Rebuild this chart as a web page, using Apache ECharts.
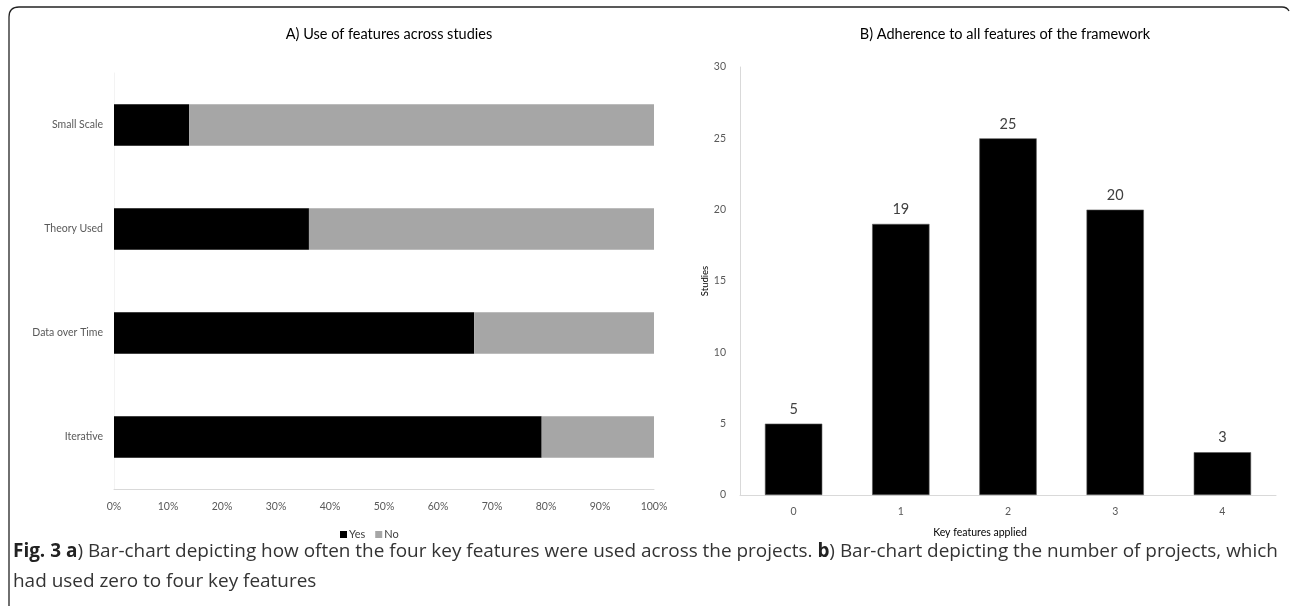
<!DOCTYPE html>
<html>
<head>
<meta charset="utf-8">
<script src="https://cdn.jsdelivr.net/npm/echarts@6/dist/echarts.min.js"></script>
<style>
html,body{margin:0;padding:0;background:#fff;}
#chart{width:1290px;height:607px;}
</style>
</head>
<body>
<div id="chart"></div>
<script>
// Panel A
var featureCategories = ['Small Scale', 'Theory Used', 'Data over Time', 'Iterative'];
var yesPercent = [13.9, 36.1, 66.7, 79.2];
var noPercent = [86.1, 63.9, 33.3, 20.8];
var percentTicks = ['0%','10%','20%','30%','40%','50%','60%','70%','80%','90%','100%'];
// Panel B
var keyFeatureCategories = ['0', '1', '2', '3', '4'];
var studyCounts = [5, 19, 25, 20, 3];

var FONT = 'Lato, "Open Sans", sans-serif';
var CAPFONT = '"Open Sans", sans-serif';
var chart = echarts.init(document.getElementById('chart'));
var frameStyle = { fill: null, stroke: '#222', lineWidth: 1.3 };
var option = {
  backgroundColor: '#ffffff',
  textStyle: { fontFamily: FONT },
  animation: false,
  title: [
    { text: 'A) Use of features across studies', left: 384, top: 22, textAlign: 'center',
      textStyle: { fontFamily: FONT, fontSize: 14.5, fontWeight: 'normal', color: '#000' } },
    { text: 'B) Adherence to all features of the framework', left: 1000, top: 22, textAlign: 'center',
      textStyle: { fontFamily: FONT, fontSize: 14.5, fontWeight: 'normal', color: '#000' } }
  ],
  legend: {
    data: ['Yes', 'No'],
    left: 335, top: 524,
    itemWidth: 7, itemHeight: 7, itemGap: 10,
    icon: 'rect',
    textStyle: { fontFamily: FONT, fontSize: 11, color: '#404040', padding: [0,0,0,-3] }
  },
  grid: [
    { left: 114, right: 636, top: 73, bottom: 118 },
    { left: 740, right: 14, top: 67, bottom: 112 }
  ],
  xAxis: [
    { type: 'value', gridIndex: 0, min: 0, max: 100, interval: 10,
      axisLine: { show: true, lineStyle: { color: '#d9d9d9' } },
      axisTick: { show: false }, splitLine: { show: false },
      axisLabel: { color: '#595959', fontSize: 10.5, margin: 12,
        formatter: function (v) { return percentTicks[Math.round(v / 10)]; } } },
    { type: 'category', gridIndex: 1, data: keyFeatureCategories,
      axisLine: { show: true, lineStyle: { color: '#d9d9d9' } },
      axisTick: { show: false },
      axisLabel: { color: '#595959', fontSize: 10.5, margin: 11 },
      name: 'Key features applied', nameLocation: 'middle', nameGap: 32,
      nameTextStyle: { color: '#000', fontSize: 10.5, padding: [0, 56, 0, 0] } }
  ],
  yAxis: [
    { type: 'category', gridIndex: 0, data: featureCategories, inverse: true,
      axisLine: { show: true, lineStyle: { color: '#f3f3f3' } },
      axisTick: { show: false },
      axisLabel: { color: '#595959', fontSize: 10.5, margin: 11 } },
    { type: 'value', gridIndex: 1, min: 0, max: 30, interval: 5,
      axisLine: { show: true, lineStyle: { color: '#d9d9d9' } },
      axisTick: { show: false }, splitLine: { show: false },
      axisLabel: { color: '#595959', fontSize: 10.5, margin: 14 },
      name: 'Studies', nameLocation: 'middle', nameGap: 29, nameRotate: 90,
      nameTextStyle: { color: '#000', fontSize: 9.5 } }
  ],
  series: [
    { name: 'Yes', type: 'bar', stack: 'a', xAxisIndex: 0, yAxisIndex: 0,
      data: yesPercent, barWidth: '40%', itemStyle: { color: '#000000' } },
    { name: 'No', type: 'bar', stack: 'a', xAxisIndex: 0, yAxisIndex: 0,
      data: noPercent, barWidth: '40%', itemStyle: { color: '#a6a6a6' } },
    { name: 'Studies', type: 'bar', xAxisIndex: 1, yAxisIndex: 1,
      data: studyCounts, barWidth: '53.5%',
      itemStyle: { color: '#000000', borderColor: '#595959', borderWidth: 0.6 },
      label: { show: true, position: 'top', distance: 7, color: '#404040', fontSize: 14.5, fontFamily: FONT } }
  ],
  graphic: [
    { type: 'polyline', silent: true, shape: { points: [[9, 606], [9, 17]] }, style: frameStyle },
    { type: 'bezierCurve', silent: true, shape: { x1: 9, y1: 17, cpx1: 9, cpy1: 7, x2: 19, y2: 7 }, style: frameStyle },
    { type: 'polyline', silent: true, shape: { points: [[19, 7], [1282, 7]] }, style: frameStyle },
    { type: 'bezierCurve', silent: true, shape: { x1: 1282, y1: 7, cpx1: 1287, cpy1: 7, x2: 1289, y2: 11 }, style: frameStyle },
    { type: 'text', left: 13, top: 537,
      style: {
        text: '{b|Fig. 3 a}) Bar-chart depicting how often the four key features were used across the projects. {b|b}) Bar-chart depicting the number of projects, which\nhad used zero to four key features',
        fontFamily: CAPFONT, fontSize: 18.95, lineHeight: 30, fill: '#333',
        rich: { b: { fontWeight: 'bold', fontFamily: CAPFONT, fontSize: 18.95, fill: '#222' } }
      } }
  ]
};
chart.setOption(option);
</script>
</body>
</html>
